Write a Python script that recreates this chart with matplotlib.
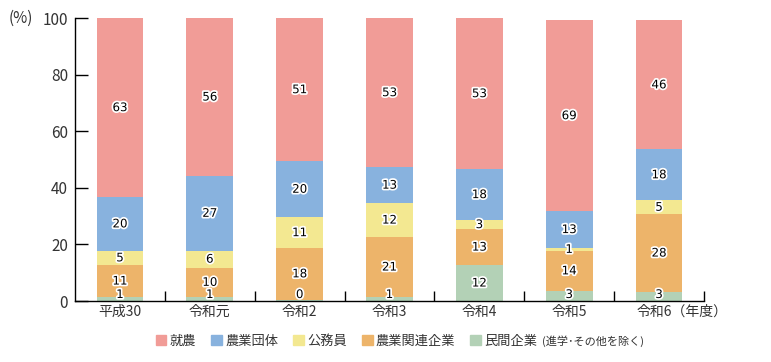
import numpy as np
import matplotlib
matplotlib.use("Agg")
import matplotlib.pyplot as plt
import matplotlib.patheffects as pe
from matplotlib.patches import Patch

plt.rcParams['font.family'] = ['Noto Sans CJK JP', 'DejaVu Sans']

# データ
years = ["平成30", "令和元", "令和2", "令和3", "令和4", "令和5", "令和6（年度）"]
series_names = ["民間企業", "農業関連企業", "公務員", "農業団体", "就農"]
colors = ["#b3d1b6", "#edb46a", "#f3e891", "#88b2de", "#f19c97"]

# 棒の高さ（%）
minkan = [1.4, 1.4, 0.5, 1.4, 12.7, 3.5, 3.2]
kanren = [11.3, 10.4, 18.2, 21.2, 12.7, 14.3, 27.5]
koumuin = [5.1, 6.0, 10.9, 12.0, 3.2, 0.9, 4.9]
dantai = [18.9, 26.4, 19.8, 12.7, 18.0, 13.1, 18.0]
shunou = [63.3, 55.8, 50.6, 52.7, 53.4, 67.4, 45.6]

# 表示ラベル
lab_minkan = [1, 1, 0, 1, 12, 3, 3]
lab_kanren = [11, 10, 18, 21, 13, 14, 28]
lab_koumuin = [5, 6, 11, 12, 3, 1, 5]
lab_dantai = [20, 27, 20, 13, 18, 13, 18]
lab_shunou = [63, 56, 51, 53, 53, 69, 46]

values = [minkan, kanren, koumuin, dantai, shunou]
labels = [lab_minkan, lab_kanren, lab_koumuin, lab_dantai, lab_shunou]

fig = plt.figure(figsize=(7.71, 3.62), dpi=100)
ax = fig.add_axes([0.0973, 0.1685, 0.8157, 0.7815])

x = np.arange(len(years))
bottom = np.zeros(len(years))
stroke = [pe.withStroke(linewidth=2.5, foreground="white")]
for vals, labs, col in zip(values, labels, colors):
    vals = np.array(vals)
    ax.bar(x, vals, 0.52, bottom=bottom, color=col, linewidth=0)
    for xi, b, v, l in zip(x, bottom, vals, labs):
        yc = max(b + v / 2, 2.3)
        ax.text(xi, yc, str(l), ha="center", va="center", fontsize=8.5,
                color="black", path_effects=stroke, family="DejaVu Sans")
    bottom += vals

ax.set_xlim(-0.5, 6.5)
ax.set_ylim(0, 100)
ax.spines["top"].set_visible(False)
ax.spines["right"].set_visible(False)
ax.spines["left"].set_linewidth(1.0)
ax.spines["bottom"].set_linewidth(1.0)

ax.set_yticks([0, 20, 40, 60, 80, 100])
ax.set_yticklabels(["0", "20", "40", "60", "80", "100"])
ax.tick_params(axis="y", direction="in", length=9, width=1.0,
               labelsize=11, labelcolor="#333333", pad=5)

# x軸ラベル（最後だけ左寄せで書く）
ax.set_xticks(x)
ax.set_xticklabels(years[:-1] + [""], fontsize=10, color="#333333")
ax.tick_params(axis="x", length=0, pad=3)
ax.annotate(years[-1], xy=(x[-1] - 0.25, 0), xycoords=("data", "axes fraction"),
            xytext=(0, -3), textcoords="offset points", ha="left", va="top",
            fontsize=10, color="#333333")
ax.set_xticks(np.arange(0.5, 7, 1), minor=True)
ax.tick_params(axis="x", which="minor", direction="in", length=7, width=1.0)

fig.text(0.011, 0.948, "(%)", fontsize=11, color="#333333", va="center")

handles = [Patch(color=c) for c in colors[::-1]]
leg = fig.legend(handles, series_names[::-1], ncol=5, loc="center left",
                 bbox_to_anchor=(0.195, 0.058), frameon=False, fontsize=9.5,
                 handlelength=0.8, handleheight=0.8, handletextpad=0.25,
                 columnspacing=1.15, borderaxespad=0)
for t in leg.get_texts():
    t.set_color("#333333")
fig.text(0.703, 0.058, "(進学･その他を除く)", fontsize=8, color="#333333",
         va="center")

fig.savefig("out.png", dpi=100)
